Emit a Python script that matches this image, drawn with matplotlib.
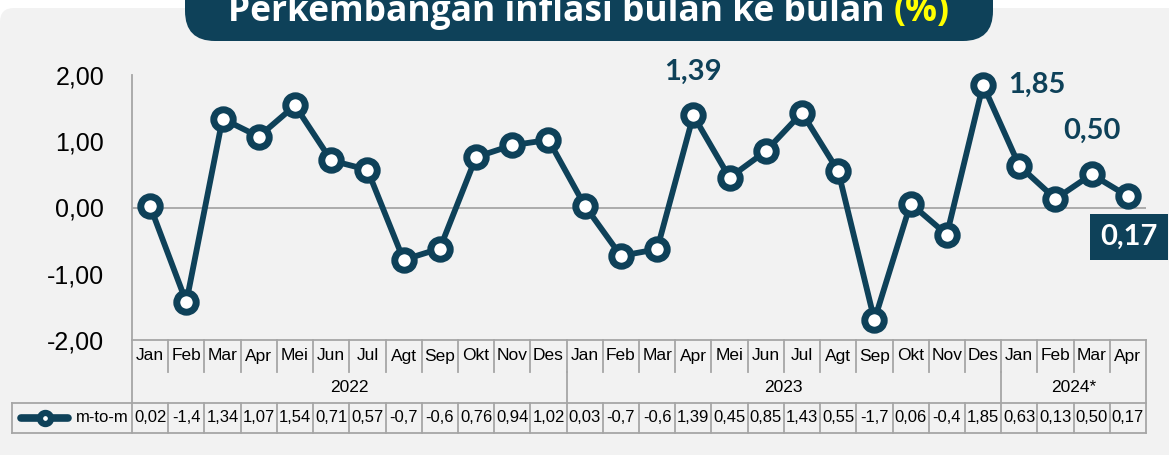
import matplotlib.pyplot as plt
from matplotlib.patches import FancyBboxPatch
from matplotlib.transforms import blended_transform_factory
from matplotlib.lines import Line2D

# data
months = ['Jan', 'Feb', 'Mar', 'Apr', 'Mei', 'Jun', 'Jul', 'Agt', 'Sep', 'Okt', 'Nov', 'Des'] * 2 + \
         ['Jan', 'Feb', 'Mar', 'Apr']
years = ['2022', '2023', '2024*']
year_counts = [12, 12, 4]
mtm = [0.02, -1.43, 1.34, 1.07, 1.54, 0.71, 0.57, -0.79, -0.62, 0.76, 0.94, 1.02,
       0.03, -0.73, -0.63, 1.39, 0.45, 0.85, 1.43, 0.55, -1.70, 0.06, -0.41, 1.85,
       0.63, 0.13, 0.50, 0.17]
mtm_labels = ['0,02', '-1,4', '1,34', '1,07', '1,54', '0,71', '0,57', '-0,7', '-0,6', '0,76', '0,94', '1,02',
              '0,03', '-0,7', '-0,6', '1,39', '0,45', '0,85', '1,43', '0,55', '-1,7', '0,06', '-0,4', '1,85',
              '0,63', '0,13', '0,50', '0,17']
y_ticks = [-2, -1, 0, 1, 2]
highlight = {15: 'above', 23: 'right', 26: 'above'}

W, H = 1169, 455
DARK = '#0E4159'
BG = '#F2F2F2'
GRID = '#A6A6A6'
NARROW = ['Liberation Sans Narrow', 'Liberation Sans', 'DejaVu Sans']
BOLD = ['Lato', 'DejaVu Sans']
TITLE = ['Open Sans', 'DejaVu Sans']

fig = plt.figure(figsize=(W / 100, H / 100), dpi=100, facecolor='white')

# background layer in pixel coords
bg = fig.add_axes([0, 0, 1, 1], zorder=-5)
bg.set_xlim(0, W)
bg.set_ylim(H, 0)
bg.axis('off')
bg.add_patch(FancyBboxPatch((0, 8), W + 40, H + 40, boxstyle='round,pad=0,rounding_size=14',
                            fc=BG, ec='none'))
bg.add_patch(FancyBboxPatch((185, -40), 808, 81, boxstyle='round,pad=0,rounding_size=30',
                            fc=DARK, ec='none'))
t1 = bg.text(0, 21, 'Perkembangan inflasi bulan ke bulan ', color='white', fontsize=25.5,
             fontweight='bold', family=TITLE, ha='left', va='baseline')
t2 = bg.text(0, 21, '(%)', color='#FFFF00', fontsize=25.5, fontweight='bold', family=TITLE,
             ha='left', va='baseline')
# centre the two title pieces together on the banner
fig.canvas.draw()
w1 = t1.get_window_extent().width
w2 = t2.get_window_extent().width
left = 589 - (w1 + w2) / 2
t1.set_x(left)
t2.set_x(left + w1)

# main plot
x0, x1, ytop, ybot = 132, 1146, 75, 340
ax = fig.add_axes([x0 / W, 1 - ybot / H, (x1 - x0) / W, (ybot - ytop) / H])
ax.set_facecolor('none')
n = len(mtm)
xs = list(range(n))
ax.set_xlim(-0.5, n - 0.5)
ax.set_ylim(-2, 2)
ax.axhline(0, color=GRID, lw=1.3, zorder=1)
ax.plot(xs, mtm, color=DARK, lw=4.2, marker='o', ms=14, mfc='white', mec=DARK, mew=5,
        zorder=3, clip_on=False, solid_joinstyle='round')
for s in ['top', 'right', 'bottom']:
    ax.spines[s].set_visible(False)
ax.spines['left'].set_color(GRID)
ax.spines['left'].set_linewidth(1.3)
ax.set_xticks([])
ax.set_yticks(y_ticks)
ax.set_yticklabels([f'{v:.2f}'.replace('.', ',') for v in y_ticks], family=NARROW, fontsize=18)
ax.tick_params(axis='y', length=0, pad=20)

for i, pos in highlight.items():
    lab = f'{mtm[i]:.2f}'.replace('.', ',')
    if pos == 'above':
        ax.annotate(lab, (xs[i], mtm[i]), xytext=(0, 22), textcoords='offset points',
                    ha='center', va='bottom', color=DARK, fontsize=21, fontweight='bold', family=BOLD)
    else:
        ax.annotate(lab, (xs[i], mtm[i]), xytext=(18, 0), textcoords='offset points',
                    ha='left', va='center', color=DARK, fontsize=21, fontweight='bold', family=BOLD)
ax.annotate(f'{mtm[-1]:.2f}'.replace('.', ','), (xs[-1], mtm[-1]), xytext=(1, -20),
            textcoords='offset points', ha='center', va='top', color='white', fontsize=21,
            fontweight='bold', family=BOLD,
            bbox=dict(boxstyle='square,pad=0.35', fc=DARK, ec='none'))

# data table under the axis
tr = blended_transform_factory(ax.transData, ax.transAxes)
ph = ybot - ytop


def yf(py):
    return (ybot - py) / ph


r0, r1, r2, r3 = yf(340), yf(372), yf(403), yf(433)
colw = (x1 - x0) / n
xl = -0.5 - (x0 - 12) / colw
kw = dict(color=GRID, lw=1.3, transform=tr, clip_on=False)
ax.add_line(Line2D([-0.5, n - 0.5], [r0, r0], **kw))
ax.add_line(Line2D([xl, n - 0.5], [r2, r2], **kw))
ax.add_line(Line2D([xl, n - 0.5], [r3, r3], **kw))
ax.add_line(Line2D([xl, xl], [r2, r3], **kw))
ax.add_line(Line2D([-0.5, -0.5], [r0, r3], **kw))
ax.add_line(Line2D([n - 0.5, n - 0.5], [r0, r3], **kw))
for i in range(1, n):
    ax.add_line(Line2D([i - 0.5, i - 0.5], [r0, r1], **kw))
    ax.add_line(Line2D([i - 0.5, i - 0.5], [r2, r3], **kw))
start = 0
for yr, cnt in zip(years, year_counts):
    if start > 0:
        ax.add_line(Line2D([start - 0.5, start - 0.5], [r1, r2], **kw))
    ax.text(start + (cnt - 1) / 2, (r1 + r2) / 2, yr, transform=tr, ha='center', va='center',
            fontsize=12.5, family=NARROW)
    start += cnt
for i in range(n):
    ax.text(xs[i], (r0 + r1) / 2, months[i], transform=tr, ha='center', va='center',
            fontsize=12.5, family=NARROW)
    ax.text(xs[i], (r2 + r3) / 2, mtm_labels[i], transform=tr, ha='center', va='center',
            fontsize=12, family=NARROW)

# legend key in the table
ym = (r2 + r3) / 2
ax.add_line(Line2D([xl + 0.25, xl + 1.55], [ym, ym], color=DARK, lw=5.5, transform=tr,
                   clip_on=False, solid_capstyle='round', zorder=4))
ax.plot([xl + 0.91], [ym], transform=tr, marker='o', ms=8, mfc='white', mec=DARK, mew=4.5,
        clip_on=False, zorder=5)
ax.text(-0.6, ym, 'm-to-m', transform=tr, ha='right', va='center', fontsize=12, family=NARROW)

fig.savefig('out.png', dpi=100, facecolor='white')
